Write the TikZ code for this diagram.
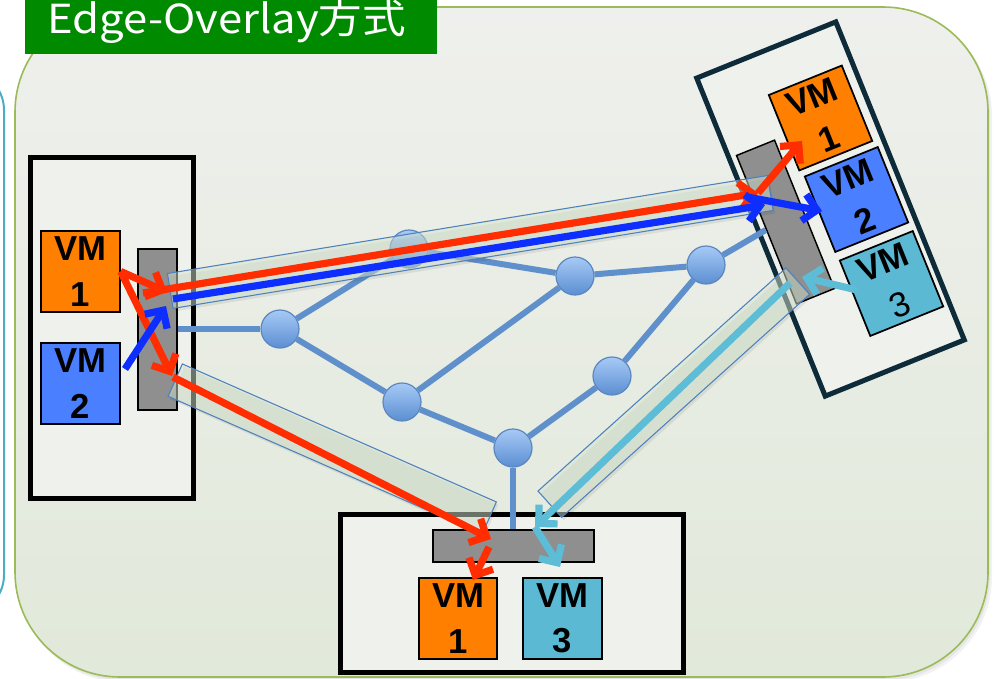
\documentclass[tikz,border=0pt]{standalone}
\usepackage{fontspec}
\setmainfont{Liberation Sans}
\newfontfamily\titlefont{Noto Sans CJK JP}
\usetikzlibrary{arrows.meta,shapes.geometric,calc}

\definecolor{titlegreen}{HTML}{008A00}
\definecolor{panelgreen}{HTML}{9BBB59}
\definecolor{paneltop}{HTML}{EFF0ED}
\definecolor{panelbot}{HTML}{E1E9DA}
\definecolor{panelblue}{HTML}{4BACC6}
\definecolor{hostfill}{HTML}{EFF1EC}
\definecolor{hostnavy}{HTML}{0E2B3A}
\definecolor{swgray}{HTML}{8F8F8F}
\definecolor{vmorange}{HTML}{FF7F00}
\definecolor{vmblue}{HTML}{4A80FF}
\definecolor{vmcyan}{HTML}{5BB9D3}
\definecolor{edgeblue}{HTML}{6090CB}
\definecolor{nodetop}{HTML}{A7CAF6}
\definecolor{nodebot}{HTML}{5B8ED2}
\definecolor{nodeborder}{HTML}{5B87C0}
\definecolor{tubefill}{HTML}{D6E5D0}
\definecolor{tubeline}{HTML}{4F81BD}
\definecolor{flowred}{HTML}{FF2D00}
\definecolor{flowblue}{HTML}{0D2EFF}
\definecolor{flowcyan}{HTML}{5DBCD6}

\pgfdeclarelayer{panel}
\pgfdeclarelayer{hosts}
\pgfdeclarelayer{links}
\pgfdeclarelayer{tunnels}
\pgfdeclarelayer{flows}
\pgfsetlayers{panel,hosts,links,main,tunnels,flows}

\begin{document}
\begin{tikzpicture}[x=0.75pt,y=-0.75pt,
  host/.style={draw=black, line width=3.75pt, fill=hostfill, inner sep=0},
  switchbox/.style={draw=black, fill=swgray, line width=1.1pt, inner sep=0},
  vm/.style={draw=black, line width=1.3pt, minimum width=59pt, minimum height=61pt,
    inner sep=0, align=center, font=\bfseries\fontsize{26}{34}\selectfont},
  netnode/.style={circle, draw=nodeborder, line width=0.9pt, top color=nodetop,
    bottom color=nodebot, minimum size=28.5pt, inner sep=0},
  netlink/.style={draw=edgeblue, line width=4.5pt},
  tube/.style={cylinder, draw=tubeline, line width=0.8pt, fill=tubefill,
    fill opacity=0.5, minimum width=26.5pt, aspect=0.35, inner sep=0,
    allow upside down},
  tubeshadow/.style={cylinder, fill=black, opacity=0.07, minimum width=26.5pt,
    aspect=0.35, inner sep=0, allow upside down},
  traffic/.style={line width=5.4pt, -{Straight Barb[length=10pt,width=20pt,line width=5.4pt]}},
]
\useasboundingbox (0,0) rectangle (994,678);

\begin{pgfonlayer}{panel}
  \fill[white] (0,0) rectangle (994,678);
  % neighbouring panel on the left
  \draw[panelblue, line width=1.5pt, rounded corners=30pt]
    (-60,70) -- (4,70) -- (4,615) -- (-60,615);
  % soft shadow of the main panel
  \fill[black, opacity=0.05, rounded corners=78.75pt] (18,11) rectangle (992,682);
  \fill[black, opacity=0.05, rounded corners=78.75pt] (17,9) rectangle (990,680);
  % main panel
  \path[draw=panelgreen, line width=1.2pt, top color=paneltop, bottom color=panelbot,
    rounded corners=78.75pt] (15,7) rectangle (988,677);
  % title
  \node[fill=titlegreen, minimum width=309pt, minimum height=40.5pt, inner sep=0]
    (titlebox) at (231,27) {};
  \node[anchor=base west, inner sep=0, text=white,
    font=\titlefont\fontsize{30}{34}\selectfont] (title) at (47,33)
    {\scalebox{1.09}[1]{Edge-Overlay方式}};
\end{pgfonlayer}

\begin{pgfonlayer}{hosts}
  % hosts
  \node[host, minimum width=122.25pt, minimum height=255.75pt] (hostL) at (111.5,327.5) {};
  \node[host, minimum width=257.25pt, minimum height=118.5pt] (hostB) at (511.5,593) {};
  \node[host, draw=hostnavy, rotate=22, minimum width=112.5pt, minimum height=257.25pt]
    (hostR) at (830.5,209) {};
  % virtual switches
  \node[switchbox, minimum width=29.25pt, minimum height=120.75pt] (swL) at (157.5,329.5) {};
  \node[switchbox, minimum width=120.75pt, minimum height=24pt] (swB) at (513.5,546) {};
  \node[switchbox, rotate=22, minimum width=30.75pt, minimum height=120pt] (swR) at (785.5,222) {};
  % virtual machines
  \node[vm, fill=vmorange] (vmL1) at (80.5,271.5) {VM\\1};
  \node[vm, fill=vmblue] (vmL2) at (80.5,383.5) {VM\\2};
  \node[vm, fill=vmorange] (vmB1) at (458,618.5) {VM\\1};
  \node[vm, fill=vmcyan] (vmB3) at (562.5,618.5) {VM\\3};
  \node[vm, fill=vmorange, rotate=22] (vmR1) at (820.5,118) {VM\\1};
  \node[vm, fill=vmblue, rotate=22] (vmR2) at (856.5,199.5) {VM\\2};
  \node[vm, fill=vmcyan, rotate=22] (vmR3) at (891.5,283.5) {VM\\{\mdseries 3}};
\end{pgfonlayer}

% physical network
\node[netnode] (n1) at (280,329) {};
\node[netnode] (n2) at (409,249) {};
\node[netnode] (n3) at (575,276) {};
\node[netnode] (n4) at (402,402) {};
\node[netnode] (n5) at (612,376) {};
\node[netnode] (n6) at (513,448) {};
\node[netnode] (n7) at (706,265) {};

\begin{pgfonlayer}{links}
  \draw[netlink] (n1 -| swL.east) -- (n1);
  \draw[netlink] (n1) -- (n2);
  \draw[netlink] (n1) -- (n4);
  \draw[netlink] (n2) -- (n3);
  \draw[netlink] (n3) -- (n7);
  \draw[netlink] (n3) -- (n4);
  \draw[netlink] (n4) -- (n6);
  \draw[netlink] (n6) -- (n5);
  \draw[netlink] (n5) -- (n7);
  \draw[netlink] (n7) -- (swR.west);
  \draw[netlink] (n6) -- (n6 |- swB.north);
\end{pgfonlayer}

% overlay tunnels
\coordinate (t1s) at (170,291);
\coordinate (t1e) at (770,193);
\coordinate (t2s) at (175,380);
\coordinate (t2e) at (489,518);
\coordinate (t3s) at (798,281);
\coordinate (t3e) at (550,504);
\begin{pgfonlayer}{tunnels}
  \foreach \s/\e in {t1s/t1e, t2s/t2e, t3s/t3e}{
    \path let \p1=($(\e)-(\s)$), \n1={veclen(\x1,\y1)} in
      ($(\s)+(2,3)$) -- ($(\e)+(2,3)$) node[tubeshadow, midway, sloped, minimum height=\n1] {};
    \path let \p1=($(\e)-(\s)$), \n1={veclen(\x1,\y1)} in
      (\s) -- (\e) node[tube, midway, sloped, minimum height=\n1] {};
  }
\end{pgfonlayer}

% traffic flows
\coordinate (r1) at (167,292);
\coordinate (r2) at (172,376);
\coordinate (b0) at (125,369);
\coordinate (b1) at (166,306);
\coordinate (r3s) at (143,293);
\coordinate (r3e) at (758,193);
\coordinate (r4e) at (802,141);
\coordinate (b2s) at (173,299);
\coordinate (b2e) at (765,205);
\coordinate (b3s) at (747,197);
\coordinate (b3e) at (822,211);
\coordinate (r5s) at (173,377);
\coordinate (r5e) at (491,539);
\coordinate (r6s) at (489,547);
\coordinate (r6e) at (473,580);
\coordinate (c0) at (857,290);
\coordinate (c1) at (802,277);
\coordinate (c2s) at (790,283);
\coordinate (c2e) at (535,527);
\coordinate (c3e) at (560,567);
\begin{pgfonlayer}{flows}
  \draw[traffic, flowred] (vmL1.east) -- (r1);
  \draw[traffic, flowred] (vmL1.east) -- (r2);
  \draw[traffic, flowblue] (b0) -- (b1);
  \draw[traffic, flowred] (r3s) -- (r3e);
  \draw[traffic, flowred] (r3e) -- (r4e);
  \draw[traffic, flowblue] (b2s) -- (b2e);
  \draw[traffic, flowblue] (b3s) -- (b3e);
  \draw[traffic, flowred] (r5s) -- (r5e);
  \draw[traffic, flowred] (r6s) -- (r6e);
  \draw[traffic, flowcyan] (c0) -- (c1);
  \draw[traffic, flowcyan] (c2s) -- (c2e);
  \draw[traffic, flowcyan] (c2e) -- (c3e);
\end{pgfonlayer}
\end{tikzpicture}
\end{document}
